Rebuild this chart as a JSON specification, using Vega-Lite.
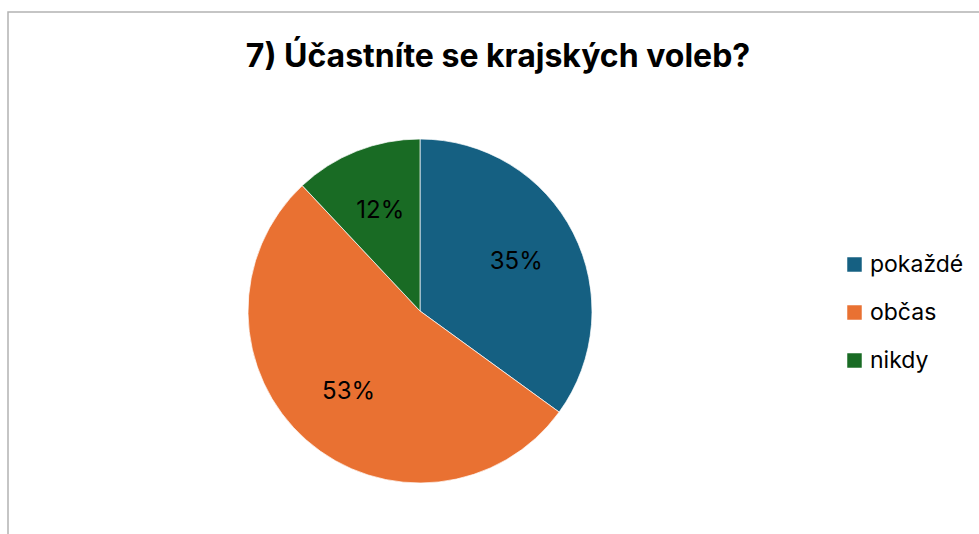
{
  "$schema": "https://vega.github.io/schema/vega-lite/v6.json",
  "width": 980,
  "height": 540,
  "autosize": {"type": "none"},
  "padding": {"left": 8, "top": 12, "right": 0, "bottom": 0},
  "background": "white",
  "view": {"stroke": "#b3b3b3", "strokeWidth": 1.5},
  "config": {
    "view": {"stroke": "#b3b3b3", "strokeWidth": 1.5},
    "font": "Inter"
  },
  "title": {
    "text": "7) Účastníte se krajských voleb?",
    "fontSize": 32,
    "fontWeight": "bold",
    "color": "#000000",
    "anchor": "middle",
    "frame": "group",
    "offset": -62,
    "font": "Inter"
  },
  "data": {
    "values": [
      {"odpoved": "pokaždé", "podil": 0.35, "poradi": 1},
      {"odpoved": "občas", "podil": 0.53, "poradi": 2},
      {"odpoved": "nikdy", "podil": 0.12, "poradi": 3}
    ]
  },
  "encoding": {
    "theta": {"field": "podil", "type": "quantitative", "stack": true},
    "order": {"field": "poradi", "type": "quantitative"},
    "color": {
      "field": "odpoved",
      "type": "nominal",
      "sort": ["pokaždé", "občas", "nikdy"],
      "scale": {"domain": ["pokaždé", "občas", "nikdy"], "range": ["#156082", "#E97132", "#196B24"]},
      "legend": {
        "title": null,
        "orient": "none",
        "legendX": 835,
        "legendY": 241,
        "symbolType": "square",
        "symbolSize": 210,
        "symbolStrokeWidth": 0,
        "labelFontSize": 23,
        "labelFont": "Inter",
        "labelColor": "#000000",
        "rowPadding": 24,
        "labelOffset": 4
      }
    }
  },
  "layer": [
    {
      "mark": {"type": "arc", "radius": 172, "x": 412, "y": 299, "stroke": "white", "strokeWidth": 0.7}
    },
    {
      "mark": {"type": "text", "radius": 108, "x": 412, "y": 299, "fontSize": 24, "color": "#000000", "font": "Inter"},
      "encoding": {
        "text": {"field": "podil", "type": "quantitative", "format": ".0%"},
        "color": {"value": "#000000"}
      }
    }
  ]
}
